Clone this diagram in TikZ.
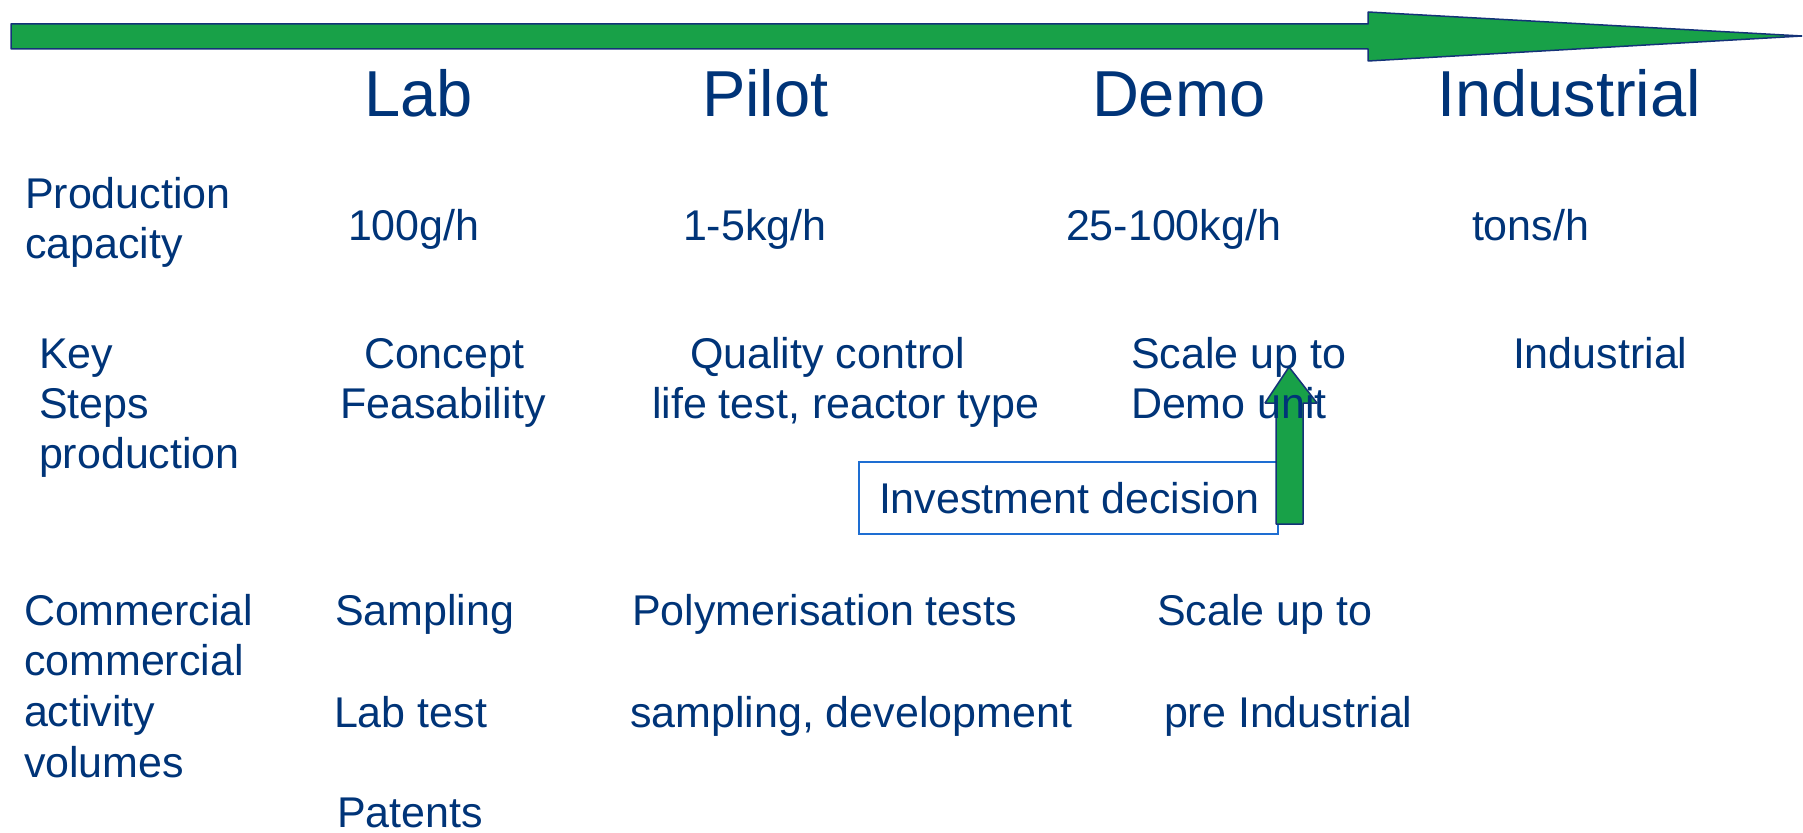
\documentclass[tikz,border=0pt]{standalone}
\usepackage{fontspec}
\setmainfont{Liberation Sans}
\definecolor{txt}{RGB}{0,52,120}
\definecolor{grn}{RGB}{24,161,72}
\definecolor{edgec}{RGB}{20,50,120}
\definecolor{boxc}{RGB}{30,110,210}
\begin{document}
\begin{tikzpicture}[x=1pt,y=-1pt,
  lbl/.style={anchor=base west, inner sep=0pt, outer sep=0pt, text=txt, font=\fontsize{43}{50}\selectfont},
  ttl/.style={lbl, font=\fontsize{65}{78}\selectfont},
  blockarrow/.style={fill=grn, draw=edgec, line width=1.5pt, line join=bevel}]
\useasboundingbox (0,0) rectangle (1803,832);
% timeline arrow
\draw[blockarrow] (11,24) -- (1368,24) -- (1368,12) -- (1802,36) -- (1368,61) -- (1368,49) -- (11,49) -- cycle;
% investment box
\node[draw=boxc, line width=1.5pt, minimum width=419pt, minimum height=72pt, inner sep=0pt, anchor=north west] (invbox) at (858,461) {};
% up arrow
\draw[blockarrow] (1276,524) -- (1276,403) -- (1265,403) -- (1289,367) -- (1317,403) -- (1303,403) -- (1303,524) -- cycle;
% titles
\node[ttl] (lab) at (364,117) {Lab};
\node[ttl] (pilot) at (702,117) {Pilot};
\node[ttl] (demo) at (1092,117) {Demo};
\node[ttl] (ind) at (1437,117) {Industrial};
% production capacity row
\node[lbl] (pc1) at (25,208) {Production};
\node[lbl] (pc2) at (25,258) {capacity};
\node[lbl] (cap1) at (348,240) {100g/h};
\node[lbl] (cap2) at (683,240) {1-5kg/h};
\node[lbl] (cap3) at (1066,240) {25-100kg/h};
\node[lbl] (cap4) at (1472,240) {tons/h};
% key steps row
\node[lbl] (ks1) at (39,368) {Key};
\node[lbl] (ks2) at (39,418) {Steps};
\node[lbl] (ks3) at (39,468) {production};
\node[lbl] (k1a) at (364,368) {Concept};
\node[lbl] (k1b) at (340,418) {Feasability};
\node[lbl] (k2a) at (690,368) {Quality control};
\node[lbl] (k2b) at (652,418) {life test, reactor type};
\node[lbl] (k3a) at (1131,368) {Scale up to};
\node[lbl] (k3b) at (1131,418) {Demo unit};
\node[lbl] (k4a) at (1513,368) {Industrial};
\node[lbl] (inv) at (879,513) {Investment decision};
% commercial row
\node[lbl] (ca1) at (24,625) {Commercial};
\node[lbl] (ca2) at (24,675) {commercial};
\node[lbl] (ca3) at (24,726) {activity};
\node[lbl] (ca4) at (24,777) {volumes};
\node[lbl] (c1a) at (335,625) {Sampling};
\node[lbl] (c1b) at (334,727) {Lab test};
\node[lbl, text depth=0pt] (c1c) at (337,827) {Patents};
\node[lbl] (c2a) at (632,625) {Polymerisation tests};
\node[lbl] (c2b) at (630,727) {sampling, development};
\node[lbl] (c3a) at (1157,625) {Scale up to};
\node[lbl] (c3b) at (1164,727) {pre Industrial};
\end{tikzpicture}
\end{document}
